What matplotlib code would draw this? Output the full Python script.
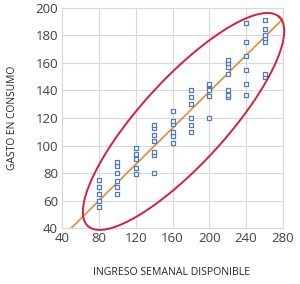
import numpy as np
import matplotlib
matplotlib.use('Agg')
import matplotlib.pyplot as plt

# Datos: ingreso semanal (X) y gasto en consumo (Y)
ingreso = [80, 100, 120, 140, 160, 180, 200, 220, 240, 260]
gasto = [
    [55, 60, 65, 70, 75],
    [65, 70, 74, 80, 85, 88],
    [79, 84, 90, 94, 98],
    [80, 93, 95, 103, 108, 113, 115],
    [102, 107, 110, 116, 118, 125],
    [110, 115, 120, 130, 135, 140],
    [120, 136, 140, 144, 145],
    [135, 137, 140, 152, 157, 160, 162],
    [137, 145, 155, 165, 175, 189],
    [150, 152, 175, 178, 180, 185, 191],
]

# Recta trazada (dos extremos)
recta_x = [50, 280]
recta_y = [40, 192]

# Elipse: centro y semiejes (en unidades de los datos)
elipse_centro = (172, 117.5)
elipse_eje_a = (104, 76)
elipse_eje_b = (-34, 21)

xs = [x for x, ys in zip(ingreso, gasto) for _ in ys]
ys = [y for col in gasto for y in col]

plt.rcParams['font.family'] = ['Open Sans', 'DejaVu Sans']

fig = plt.figure(figsize=(3.0, 2.84), dpi=100)
ax = fig.add_axes([0.207, 0.197, 0.736, 0.775])

ax.set_xlim(40, 280)
ax.set_ylim(40, 200)
ax.set_xticks(range(40, 281, 40))
ax.set_yticks(range(40, 201, 20))
ax.grid(True, color='#d9d9d9', linewidth=0.8)
ax.set_axisbelow(True)
for s in ax.spines.values():
    s.set_color('#d9d9d9')
    s.set_linewidth(0.8)
ax.tick_params(length=0, labelsize=9.5, labelcolor='#404040', pad=3)

ax.plot(recta_x, recta_y, color='#e08a3c', linewidth=1.2, zorder=2)
ax.scatter(xs, ys, marker='s', s=6, facecolor='white', edgecolor='#4f7bb8',
           linewidths=0.9, zorder=3)

t = np.linspace(0, 2 * np.pi, 300)
ex = elipse_centro[0] + np.cos(t) * elipse_eje_a[0] + np.sin(t) * elipse_eje_b[0]
ey = elipse_centro[1] + np.cos(t) * elipse_eje_a[1] + np.sin(t) * elipse_eje_b[1]
ax.plot(ex, ey, color='#d6203a', linewidth=1.4, clip_on=False, zorder=4)

fig.text(0.573, 0.039, 'INGRESO SEMANAL DISPONIBLE', ha='center', va='center',
         fontsize=7.6, color='#262626')
fig.text(0.042, 0.586, 'GASTO EN CONSUMO', ha='center', va='center',
         rotation=90, fontsize=7.4, color='#262626')

plt.savefig('out.png', dpi=100)
